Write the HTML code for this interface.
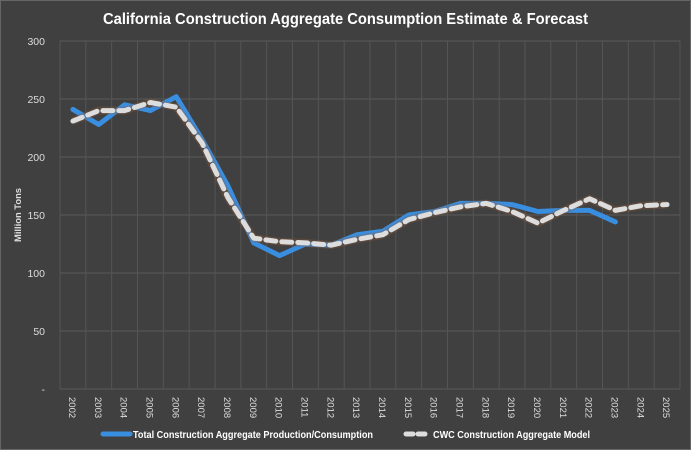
<!DOCTYPE html>
<html><head><meta charset="utf-8"><style>
html,body{margin:0;padding:0;background:#3f3f3f;}
svg{display:block;font-family:"Liberation Sans",sans-serif;}
</style></head><body>
<svg id="chart" width="691" height="450" viewBox="0 0 691 450">
<rect x="0.5" y="0.5" width="690" height="449" fill="#404040" stroke="#666" />
<text x="103" y="24" fill="#fff" font-size="16" font-weight="bold" textLength="485" lengthAdjust="spacingAndGlyphs">California Construction Aggregate Consumption Estimate &amp; Forecast</text>
<text transform="translate(21,215) rotate(-90)" fill="#ddd" font-size="9" font-weight="bold" text-anchor="middle" textLength="54" lengthAdjust="spacingAndGlyphs">Million Tons</text>
<g id="grid"></g><g id="series"></g><g id="axes"></g>
<g>
<line x1="103" y1="434" x2="130" y2="434" stroke="#3a8ee0" stroke-width="5" stroke-linecap="round"/>
<text x="133" y="438" fill="#fff" font-size="10" font-weight="bold" textLength="240" lengthAdjust="spacingAndGlyphs">Total Construction Aggregate Production/Consumption</text>
<line x1="406" y1="434" x2="430" y2="434" stroke="#ddd" stroke-width="5" stroke-dasharray="7,5" stroke-linecap="round"/>
<text x="433" y="438" fill="#fff" font-size="10" font-weight="bold" textLength="157" lengthAdjust="spacingAndGlyphs">CWC Construction Aggregate Model</text>
</g>
</svg>
<script>
const years=["2002","2003","2004","2005","2006","2007","2008","2009","2010","2011","2012","2013","2014","2015","2016","2017","2018","2019","2020","2021","2022","2023","2024","2025"];
const actual=[241,228,245,240,252,215,175,126,115,125,124,133,136,150,153,160,160,159,153,154,154,144];
const model=[231,240,240,247,243,212,165,130,127,126,124,129,133,146,152,157,160,153,143,154,164,154,158,159];
const yTicks=[0,50,100,150,200,250,300];
const yTickLabels=["-","50","100","150","200","250","300"];
const L=60,R=680,T=41,B=389,NS="http://www.w3.org/2000/svg";
const bw=(R-L)/years.length;
const x=i=>L+bw*(i+0.5);
const y=v=>B-(v/300)*(B-T);
function el(t,a,p){const e=document.createElementNS(NS,t);for(const k in a)e.setAttribute(k,a[k]);p.appendChild(e);return e;}
const grid=document.getElementById('grid'),axes=document.getElementById('axes'),ser=document.getElementById('series');
yTicks.forEach((v,i)=>{
 const g=el('line',{x1:L,x2:R,y1:y(v),y2:y(v),stroke:'#5a5a5a','stroke-width':1},grid);
 
 
 const t=el('text',{x:45,y:y(v)+4,fill:'#ddd','font-size':10.5,'text-anchor':'end'},axes);
 t.textContent=yTickLabels[i];
 
 
});
for(let i=0;i<=years.length;i++){
 const g=el('line',{x1:L+bw*i,x2:L+bw*i,y1:T,y2:B,stroke:'#555','stroke-width':1},grid);
 
 
}
years.forEach((yr,i)=>{
 const t=el('text',{transform:`translate(${x(i)-4},397) rotate(90)`,fill:'#ddd','font-size':9.5},axes);
 t.textContent=yr;
 
 
});
const pts=a=>a.map((v,i)=>x(i)+','+y(v)).join(' ');
const a=el('polyline',{points:pts(actual),fill:'none',stroke:'#3a8ee0','stroke-width':5,'stroke-linejoin':'round','stroke-linecap':'round'},ser);


const mg=el('polyline',{points:pts(model),fill:'none',stroke:'#8a5a3a','stroke-width':8,'stroke-opacity':0.35,'stroke-linejoin':'round'},ser);


const m=el('polyline',{points:pts(model),fill:'none',stroke:'#ddd','stroke-width':5,'stroke-dasharray':'10,6','stroke-linejoin':'round','stroke-linecap':'round'},ser);


</script>
</body></html>
